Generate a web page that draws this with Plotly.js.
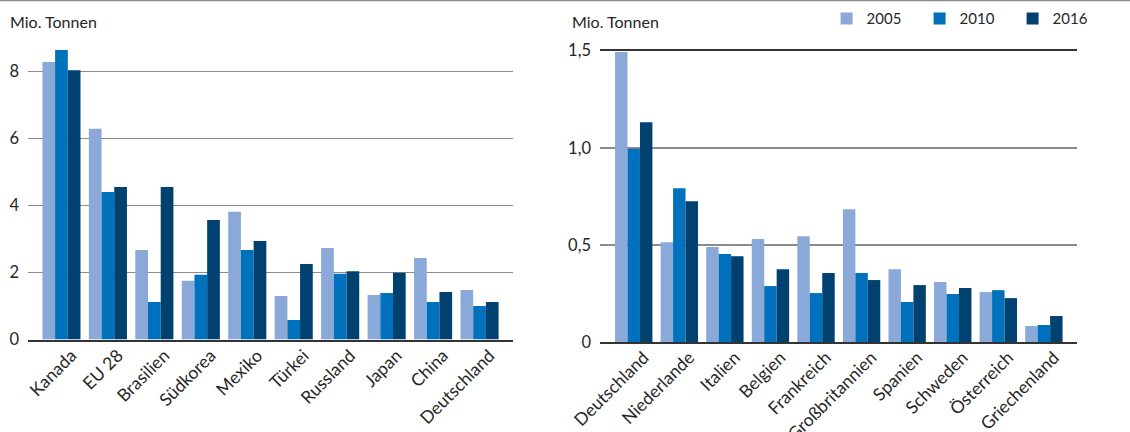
<!DOCTYPE html>
<html>
<head>
<meta charset="utf-8">
<script src="https://cdn.plot.ly/plotly-3.0.1.min.js"></script>
<style>html,body{margin:0;padding:0;background:#fff;}#chart{width:1130px;height:432px;}</style>
</head>
<body>
<div id="chart"></div>
<script>
// ---- Data ----
const years = ['2005', '2010', '2016'];
const leftCategories = ['Kanada', 'EU 28', 'Brasilien', 'Südkorea', 'Mexiko', 'Türkei', 'Russland', 'Japan', 'China', 'Deutschland'];
const left2005 = [8.28, 6.29, 2.67, 1.75, 3.81, 1.30, 2.73, 1.33, 2.43, 1.48];
const left2010 = [8.64, 4.40, 1.12, 1.93, 2.67, 0.58, 1.96, 1.39, 1.12, 1.00];
const left2016 = [8.04, 4.55, 4.55, 3.57, 2.94, 2.25, 2.04, 1.99, 1.42, 1.12];

const rightCategories = ['Deutschland', 'Niederlande', 'Italien', 'Belgien', 'Frankreich', 'Großbritannien', 'Spanien', 'Schweden', 'Österreich', 'Griechenland'];
const right2005 = [1.493, 0.514, 0.489, 0.530, 0.545, 0.684, 0.375, 0.309, 0.257, 0.082];
const right2010 = [0.995, 0.792, 0.453, 0.288, 0.252, 0.355, 0.206, 0.247, 0.267, 0.087];
const right2016 = [1.132, 0.725, 0.442, 0.375, 0.355, 0.319, 0.293, 0.278, 0.226, 0.134];

const leftTickVals = [0, 2, 4, 6, 8];
const leftTickText = ['0', '2', '4', '6', '8'];
const rightTickVals = [0, 0.5, 1.0, 1.5];
const rightTickText = ['0', '0,5', '1,0', '1,5'];

const unitLabel = 'Mio. Tonnen';
const colors = ['#8aa9d9', '#0071bc', '#00416f'];

// ---- Traces ----
const leftSeries = [left2005, left2010, left2016];
const rightSeries = [right2005, right2010, right2016];
const traces = [];
years.forEach((yr, i) => {
  traces.push({
    type: 'bar', name: yr, x: leftCategories, y: leftSeries[i],
    xaxis: 'x', yaxis: 'y', marker: {color: colors[i]},
    legendgroup: yr, showlegend: true, hoverinfo: 'x+y+name'
  });
});
years.forEach((yr, i) => {
  traces.push({
    type: 'bar', name: yr, x: rightCategories, y: rightSeries[i],
    xaxis: 'x2', yaxis: 'y2', marker: {color: colors[i]},
    legendgroup: yr, showlegend: false, hoverinfo: 'x+y+name'
  });
});

const FONT = 'Lato, "Source Sans Pro", "Noto Sans", sans-serif';
const txt = '#262626';

const layout = {
  width: 1130, height: 432,
  margin: {l: 0, r: 0, t: 0, b: 0},
  paper_bgcolor: '#fff', plot_bgcolor: 'rgba(0,0,0,0)',
  font: {family: FONT, size: 16, color: txt},
  separators: ',.',
  barmode: 'group',
  bargap: 0.18,
  bargroupgap: 0,
  showlegend: true,
  legend: {
    orientation: 'h', x: 0.7315, xanchor: 'left', y: 0.995, yanchor: 'top',
    font: {family: FONT, size: 15, color: txt},
    entrywidth: 48, entrywidthmode: 'pixels',
    bgcolor: 'rgba(0,0,0,0)', borderwidth: 0, traceorder: 'normal'
  },
  xaxis: {
    domain: [0.02478, 0.45398], anchor: 'y',
    type: 'category', range: [-0.72, 9.72],
    tickangle: -45, ticks: '', showgrid: false, zeroline: false,
    showline: true, linecolor: '#333', linewidth: 2,
    ticklabelshift: 10, ticklabelstandoff: -3,
    tickfont: {family: FONT, size: 17.5, color: txt}, fixedrange: true
  },
  yaxis: {
    domain: [0.2141, 0.8958], anchor: 'x',
    range: [0, 8.79], tickvals: leftTickVals, ticktext: leftTickText,
    ticks: '', showgrid: true, gridcolor: '#8c8c8c', gridwidth: 1.5,
    zeroline: false, showline: false, ticklabelstandoff: 8,
    tickfont: {family: FONT, size: 16.5, color: txt}, fixedrange: true
  },
  xaxis2: {
    domain: [0.53097, 0.95283], anchor: 'y2',
    type: 'category', range: [-0.74, 9.72],
    tickangle: -45, ticks: '', showgrid: false, zeroline: false,
    showline: true, mirror: true, linecolor: '#333', linewidth: 1.5,
    ticklabelshift: 10, ticklabelstandoff: -3,
    tickfont: {family: FONT, size: 17.5, color: txt}, fixedrange: true
  },
  yaxis2: {
    domain: [0.20833, 0.88264], anchor: 'x2',
    range: [0, 1.5], tickvals: rightTickVals, ticktext: rightTickText,
    ticks: '', showgrid: true, gridcolor: '#8c8c8c', gridwidth: 1.5,
    zeroline: false, showline: false, ticklabelstandoff: 8,
    tickfont: {family: FONT, size: 16.5, color: txt}, fixedrange: true
  },
  annotations: [
    {text: unitLabel, xref: 'paper', yref: 'paper', x: 8/1130, y: 1 - 10/432,
     xanchor: 'left', yanchor: 'top', showarrow: false, font: {family: FONT, size: 16, color: txt}},
    {text: unitLabel, xref: 'paper', yref: 'paper', x: 570/1130, y: 1 - 10/432,
     xanchor: 'left', yanchor: 'top', showarrow: false, font: {family: FONT, size: 16, color: txt}}
  ],
  shapes: [
    {type: 'line', xref: 'paper', yref: 'paper', x0: 0, x1: 1, y0: 1 - 0.5/432, y1: 1 - 0.5/432,
     line: {color: '#8c8c8c', width: 1.5}}
  ]
};

Plotly.newPlot('chart', traces, layout, {displayModeBar: false, staticPlot: true});
</script>
</body>
</html>
